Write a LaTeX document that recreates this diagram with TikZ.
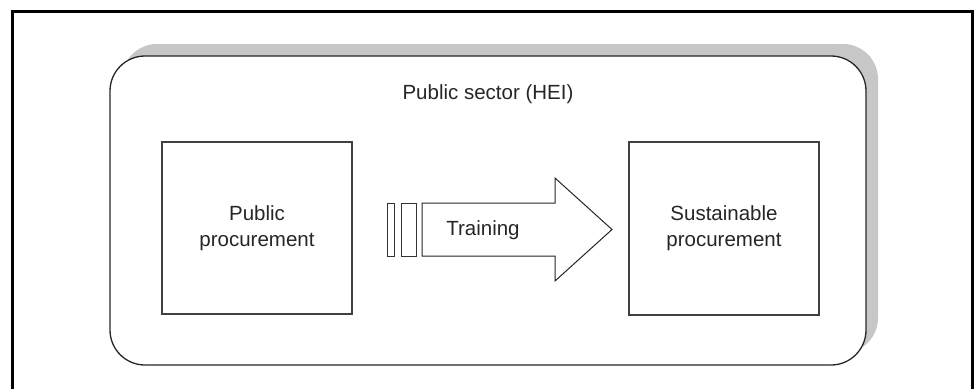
\documentclass[tikz,border=0pt]{standalone}
\usepackage{fontspec}
\setmainfont{Liberation Sans}
\begin{document}
\begin{tikzpicture}[x=1pt,y=-1pt,
  txt/.style={font=\fontsize{20.5}{26}\selectfont, text=black!85, align=center},
  box/.style={draw=black!75, line width=1.3pt, fill=white, minimum width=190pt, minimum height=172pt, inner sep=0pt},
  stripe/.style={draw=black!80, line width=1pt, fill=white, minimum width=7pt, minimum height=53pt, inner sep=0pt}]
\useasboundingbox (0,0) rectangle (976,388);
% outer frame (open at bottom)
\draw[line width=3pt] (12.5,390) -- (12.5,11.5) -- (972,11.5) -- (972,390);
% shadow
\fill[black!22, rounded corners=35pt] (122,44) rectangle (878,353);
% sector box
\node[draw=black!85, line width=1.3pt, fill=white, rounded corners=35pt, minimum width=756pt, minimum height=309pt, inner sep=0pt] (sector) at (488,210.5) {};
\node[txt] (title) at (488,94) {Public sector (HEI)};
% boxes
\node[box, txt, minimum width=190pt, minimum height=172pt] (pp) at (257,228) {Public\\procurement};
\node[box, txt, minimum width=190pt, minimum height=173pt] (sp) at (724,228.5) {Sustainable\\procurement};
% stripes
\node[stripe] (s1) at (390.5,229.5) {};
\node[stripe, minimum width=15pt] (s2) at (408.5,229.5) {};
% arrow
\draw[black!85, line width=1pt, fill=white] (422,203) -- (555,203) -- (555,178) -- (612,229.5) -- (555,281) -- (555,256) -- (422,256) -- cycle;
\node[txt] (training) at (483,230) {Training};
\end{tikzpicture}
\end{document}
